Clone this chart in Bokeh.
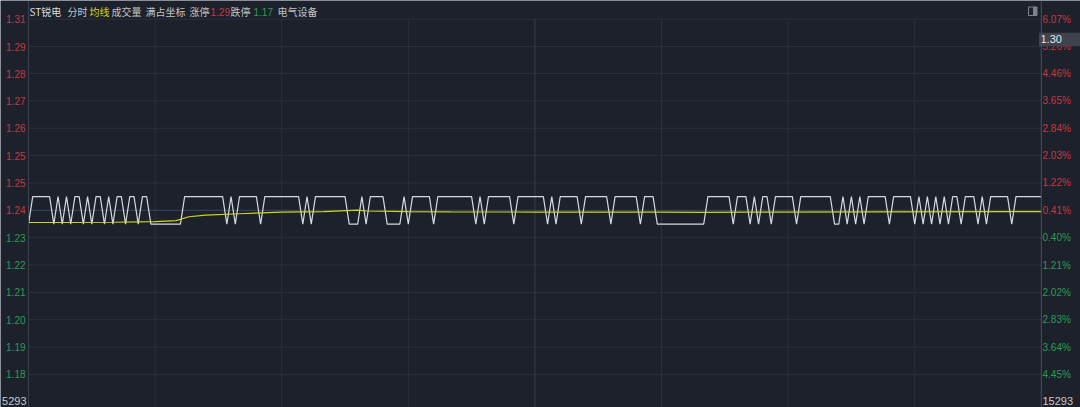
from bokeh.plotting import figure
from bokeh.models import Range1d, ColumnDataSource, Span
from bokeh.core.properties import value
from bokeh.embed import file_html
from bokeh.resources import INLINE

# ---------------- data ----------------
prev_close = 1.23
tick_size = 0.01
stock_name = "ST锐电"
sector = "电气设备"
limit_up = "1.29"
limit_down = "1.17"
cursor_price = "1.30"
volume_left = "5293"
volume_right = "15293"

# one character per minute (241 minutes): ticks above previous close
price_ticks = [
    "0111110101", "0110101101", "0110110110", "0000000111",
    "1111111010", "1111101111", "1111101011", "1111110001",
    "0111100001", "0111110111", "1111110101", "1111101111",
    "1110101111", "1011111101", "1111101110", "0000000000",
    "0111111011", "1010110111", "1101111111", "1001010101",
    "1111011111", "0101010101", "1011101011", "1110111111",
    "1",
]

avg_minutes = [0, 10, 20, 30, 35, 38, 42, 50, 60, 70, 78, 80, 90, 100,
               120, 150, 160, 170, 200, 240]
avg_price = [1.2306, 1.2306, 1.2307, 1.2309, 1.2313, 1.2327, 1.2333, 1.2338,
             1.2344, 1.2346, 1.2351, 1.2348, 1.2346, 1.2345, 1.2344, 1.2344,
             1.2343, 1.2344, 1.2345, 1.2346]

grid_pct = [6.07, 5.26, 4.46, 3.65, 2.84, 2.03, 1.22, 0.41,
            -0.40, -1.21, -2.02, -2.83, -3.64, -4.45]
left_labels = ["1.31", "1.29", "1.28", "1.27", "1.26", "1.25", "1.25", "1.24",
               "1.23", "1.22", "1.21", "1.20", "1.19", "1.18"]
right_labels = ["6.07%", "5.26%", "4.46%", "3.65%", "2.84%", "2.03%", "1.22%",
                "0.41%", "0.40%", "1.21%", "2.02%", "2.83%", "3.64%", "4.45%"]
time_grid = [30, 60, 90, 150, 180, 210]
noon = 120

header_texts = [stock_name, "分时", "均线", "成交量", "满占坐标", "涨停",
                limit_up, "跌停", limit_down, sector]
header_keys = ["name", "txt", "avg", "txt", "txt", "txt", "up", "txt",
               "down", "txt"]

# ---------------- style / layout ----------------
BG = "#1c212b"
GRID = "#2b313c"
RED = "#c9383e"
GREEN = "#2a9d55"
WHITE_LINE = "#d6dae0"
YELLOW = "#cfd41c"
CJK = "Noto Sans CJK SC"
NUM = "Liberation Sans"

W, H = 1080, 407
X0_PX = 28.0          # pixel of minute 0
PPM = 4.22            # pixels per minute
TOP_GRID_PX = 18.7    # pixel of the top grid line
ROW_PX = 27.35        # pixels between horizontal grid lines

row_price = prev_close * 0.0081
ppp = row_price / ROW_PX                       # price per pixel
y_top = prev_close * (1 + grid_pct[0] / 100)


def xd(px):
    return (px - X0_PX) / PPM


def yd(py):
    return y_top - (py - TOP_GRID_PX) * ppp


price_str = "".join(price_ticks)
minutes = list(range(len(price_str)))
price = [prev_close + tick_size * int(c) for c in price_str]
last_min = minutes[-1]

p = figure(width=W, height=H, output_backend="svg", toolbar_location=None,
           x_range=Range1d(xd(0), xd(W)), y_range=Range1d(yd(H), yd(0)),
           x_axis_location=None, y_axis_location=None, min_border=0)
p.background_fill_color = BG
p.border_fill_color = BG
p.outline_line_color = None
p.grid.visible = False

# grid
grid_prices = [prev_close * (1 + g / 100) for g in grid_pct]
p.segment(x0=[0] * len(grid_prices), x1=[last_min] * len(grid_prices),
          y0=grid_prices, y1=grid_prices, line_color=GRID, line_width=1)
p.segment(x0=time_grid, x1=time_grid, y0=[y_top] * len(time_grid),
          y1=[yd(H)] * len(time_grid), line_color=GRID, line_width=1)
p.segment(x0=[noon], x1=[noon], y0=[y_top], y1=[yd(H)],
          line_color="#373e4a", line_width=1)
p.segment(x0=[0], x1=[last_min], y0=[grid_prices[7]], y1=[grid_prices[7]],
          line_color="#36435b", line_width=1)
p.add_layout(Span(location=0, dimension="height", line_color="#3b414c", line_width=1))
p.add_layout(Span(location=last_min, dimension="height", line_color="#4a505b", line_width=1))

# series
p.line(minutes, price, line_color=WHITE_LINE, line_width=1.2)
p.line(avg_minutes, avg_price, line_color=YELLOW, line_width=1.2)

# axis labels
cols = [RED if g > 0 else GREEN for g in grid_pct]
left_src = ColumnDataSource(dict(x=[xd(25)] * len(grid_prices), y=grid_prices,
                                 t=left_labels, c=cols))
right_src = ColumnDataSource(dict(x=[xd(1042)] * len(grid_prices), y=grid_prices,
                                  t=right_labels, c=cols))
p.text(x="x", y="y", text="t", text_color="c", source=left_src,
       text_align="right", text_baseline="middle",
       text_font=value(NUM), text_font_size="10px")
p.text(x="x", y="y", text="t", text_color="c", source=right_src,
       text_align="left", text_baseline="middle",
       text_font=value(NUM), text_font_size="10px")

# cursor price box on the right axis (covers most of 5.26%)
p.quad(left=[xd(1038.5)], right=[xd(1081)], top=[yd(32.3)], bottom=[yd(45.8)],
       fill_color="#3e434d", line_color=None)
p.text(x=[xd(1040)], y=[yd(38.8)], text=[cursor_price], text_color="#e6e6e6",
       text_align="left", text_baseline="middle",
       text_font=value(NUM), text_font_size="11px")

# small window icon top-right
p.quad(left=[xd(1028)], right=[xd(1036.5)], top=[yd(6.5)], bottom=[yd(15)],
       fill_color=None, line_color="#7d838d", line_width=1)
p.quad(left=[xd(1032.5)], right=[xd(1036.5)], top=[yd(6.5)], bottom=[yd(15)],
       fill_color="#7d838d", line_color=None)

# volume labels at the bottom
p.text(x=[xd(26)], y=[yd(400.5)], text=[volume_left], text_color="#c8c8c8",
       text_align="right", text_baseline="middle",
       text_font=value(NUM), text_font_size="11px")
p.text(x=[xd(1042)], y=[yd(400.5)], text=[volume_right], text_color="#c8c8c8",
       text_align="left", text_baseline="middle",
       text_font=value(NUM), text_font_size="11px")

# header
header_px = [29, 67, 89, 111, 145, 189, 210, 230, 253, 277]
colours = {"name": "#dcdcdc", "txt": "#c4c4c4", "avg": "#d8d820",
           "up": RED, "down": GREEN}
fonts = [NUM if k in ("up", "down") else CJK for k in header_keys]
head_src = ColumnDataSource(dict(x=[xd(v) for v in header_px],
                                 y=[yd(11.2)] * len(header_px),
                                 t=header_texts, f=fonts,
                                 c=[colours[k] for k in header_keys]))
p.text(x="x", y="y", text="t", text_color="c", text_font="f", source=head_src,
       text_align="left", text_baseline="middle", text_font_size="10px")

open("out.html", "w").write(file_html(p, INLINE))
